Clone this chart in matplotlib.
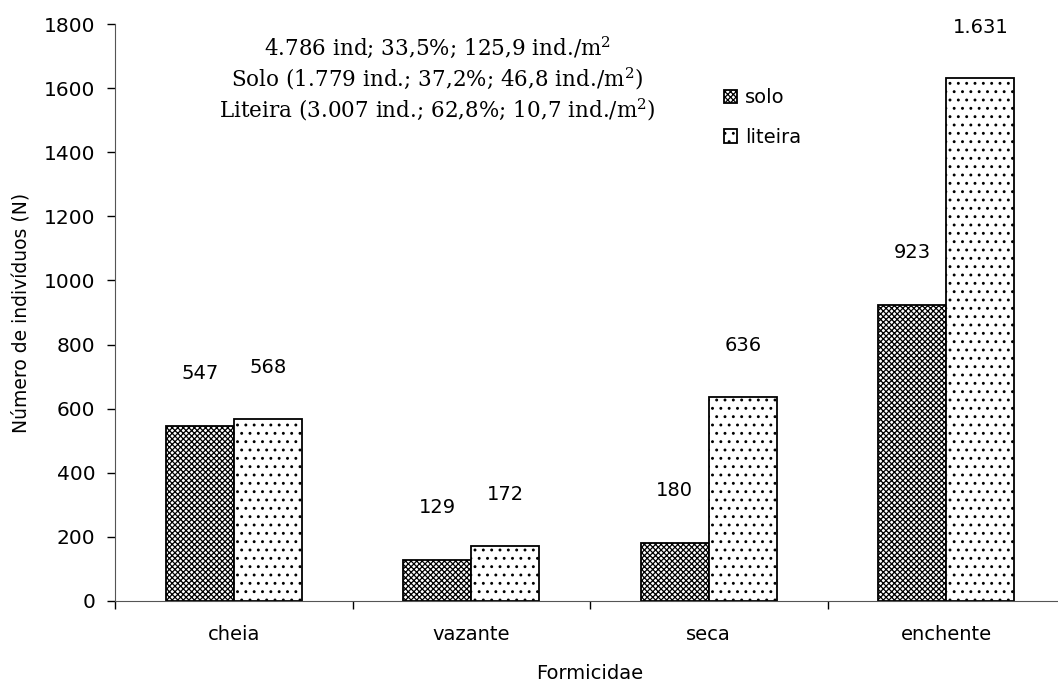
import numpy as np
import matplotlib.pyplot as plt

plt.rcParams["font.family"] = ["DejaVu Sans"]
plt.rcParams["mathtext.fontset"] = "dejavuserif"
plt.rcParams["hatch.linewidth"] = 0.9

categories = ["cheia", "vazante", "seca", "enchente"]
solo = [547, 129, 180, 923]
liteira = [568, 172, 636, 1631]
solo_labels = ["547", "129", "180", "923"]
liteira_labels = ["568", "172", "636", "1.631"]
info_lines = [
    r"4.786 ind; 33,5%; 125,9 ind./m$^{\mathrm{2}}$",
    r"Solo (1.779 ind.; 37,2%; 46,8 ind./m$^{\mathrm{2}}$)",
    r"Liteira (3.007 ind.; 62,8%; 10,7 ind./m$^{\mathrm{2}}$)",
]

fig = plt.figure(figsize=(10.58, 6.87), dpi=100)
ax = fig.add_axes([115 / 1058, 86 / 687, 950 / 1058, 577 / 687])

x = np.arange(len(categories))
w = 0.287
b1 = ax.bar(x - w / 2, solo, w, color="white", edgecolor="black",
            hatch="xxxxxx", linewidth=1.3, label="solo")
b2 = ax.bar(x + w / 2, liteira, w, color="white", edgecolor="black",
            hatch="..", linewidth=1.3, label="liteira")

for rect, lab in zip(b1, solo_labels):
    ax.annotate(lab, (rect.get_x() + rect.get_width() / 2, rect.get_height()),
                xytext=(0, 31), textcoords="offset points",
                ha="center", va="bottom", fontsize=14)
for rect, lab in zip(b2, liteira_labels):
    ax.annotate(lab, (rect.get_x() + rect.get_width() / 2, rect.get_height()),
                xytext=(0, 30), textcoords="offset points",
                ha="center", va="bottom", fontsize=14)

ax.set_xlim(-0.5, 3.5)
ax.set_ylim(0, 1800)
ax.set_yticks(np.arange(0, 1801, 200))
ax.set_xticks(np.arange(-0.5, 3.6, 1.0))
ax.set_xticklabels([])
ax.set_xticks(x, minor=True)
ax.set_xticklabels(categories, minor=True)
ax.tick_params(axis="x", which="minor", length=0, pad=17, labelsize=14)
ax.tick_params(axis="x", which="major", direction="out", length=6, width=1)
ax.tick_params(axis="y", direction="out", length=6, width=1, labelsize=14.5, pad=8)

for s in ["top", "right"]:
    ax.spines[s].set_visible(False)
ax.spines["left"].set_color("#555555")
ax.spines["bottom"].set_color("#555555")

ax.set_xlabel("Formicidae", fontsize=14, labelpad=15)
ax.set_ylabel("Número de indivíduos (N)", fontsize=13.5, labelpad=10)

for i, line in enumerate(info_lines):
    fig.text(437 / 1058, 1 - (47 + 31.5 * i) / 687, line, ha="center", va="center",
             fontsize=15.5, family="DejaVu Serif")

ax.legend(loc="upper left", bbox_to_anchor=(706 / 1058, 1 - 71 / 687),
          bbox_transform=fig.transFigure, frameon=False, fontsize=14,
          handlelength=0.7, handleheight=0.7, handletextpad=0.4, labelspacing=1.05)

fig.savefig("out.png", dpi=100)
